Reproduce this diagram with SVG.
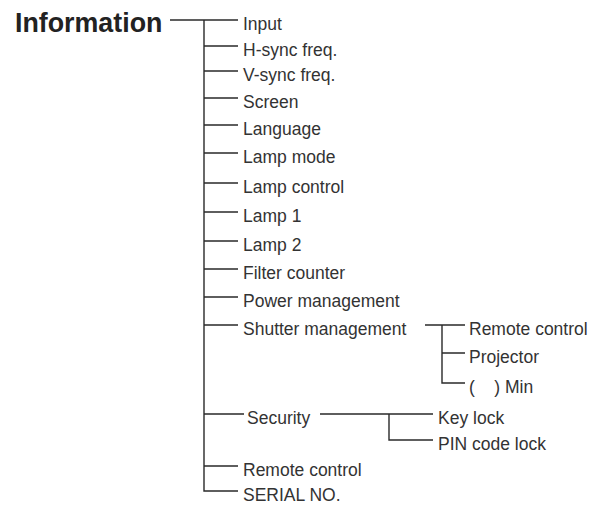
<svg xmlns="http://www.w3.org/2000/svg" width="613" height="510" viewBox="0 0 613 510">
<style>
.t{font-family:"Liberation Sans",Arial,sans-serif;font-size:17.5px;fill:#333}
.h{font-family:"Liberation Sans",Arial,sans-serif;font-size:26.8px;font-weight:bold;fill:#222}
.c{stroke:#2a2a2a;stroke-width:1.4;fill:none}
</style>
<rect width="613" height="510" fill="#fff"/>
<g id="connectors" class="c">
<path d="M170 20H238"/>
<path d="M204 20V491H238"/>
<path d="M204 46H238M204 71H238M204 98H238M204 125H238M204 153H238M204 183H238M204 212H238M204 241H238M204 269H238M204 297H238M204 325H238M204 414H244M204 466H238"/>
<path d="M425 325H465M442 325V383H465M442 353H465"/>
<path d="M320 414H433M389 414V440H433"/>
</g>
<g id="information"><text class="h" x="15" y="32">Information</text></g>
<g id="input"><text class="t" x="243" y="30">Input</text></g>
<g id="hsync"><text class="t" x="243" y="56">H-sync freq.</text></g>
<g id="vsync"><text class="t" x="243" y="81">V-sync freq.</text></g>
<g id="screen"><text class="t" x="243" y="108">Screen</text></g>
<g id="language"><text class="t" x="243" y="135">Language</text></g>
<g id="lampmode"><text class="t" x="243" y="163">Lamp mode</text></g>
<g id="lampcontrol"><text class="t" x="243" y="193">Lamp control</text></g>
<g id="lamp1"><text class="t" x="243" y="222">Lamp 1</text></g>
<g id="lamp2"><text class="t" x="243" y="251">Lamp 2</text></g>
<g id="filter"><text class="t" x="243" y="279">Filter counter</text></g>
<g id="power"><text class="t" x="243" y="307">Power management</text></g>
<g id="shutter"><text class="t" x="243" y="335">Shutter management</text></g>
<g id="shutter-remote"><text class="t" x="469" y="335">Remote control</text></g>
<g id="projector"><text class="t" x="469" y="363">Projector</text></g>
<g id="min"><text class="t" x="469" y="393" xml:space="preserve">(    ) Min</text></g>
<g id="security"><text class="t" x="247" y="424">Security</text></g>
<g id="keylock"><text class="t" x="438" y="424">Key lock</text></g>
<g id="pinlock"><text class="t" x="438" y="450">PIN code lock</text></g>
<g id="remote"><text class="t" x="243" y="476">Remote control</text></g>
<g id="serial"><text class="t" x="243" y="501">SERIAL NO.</text></g>
</svg>
